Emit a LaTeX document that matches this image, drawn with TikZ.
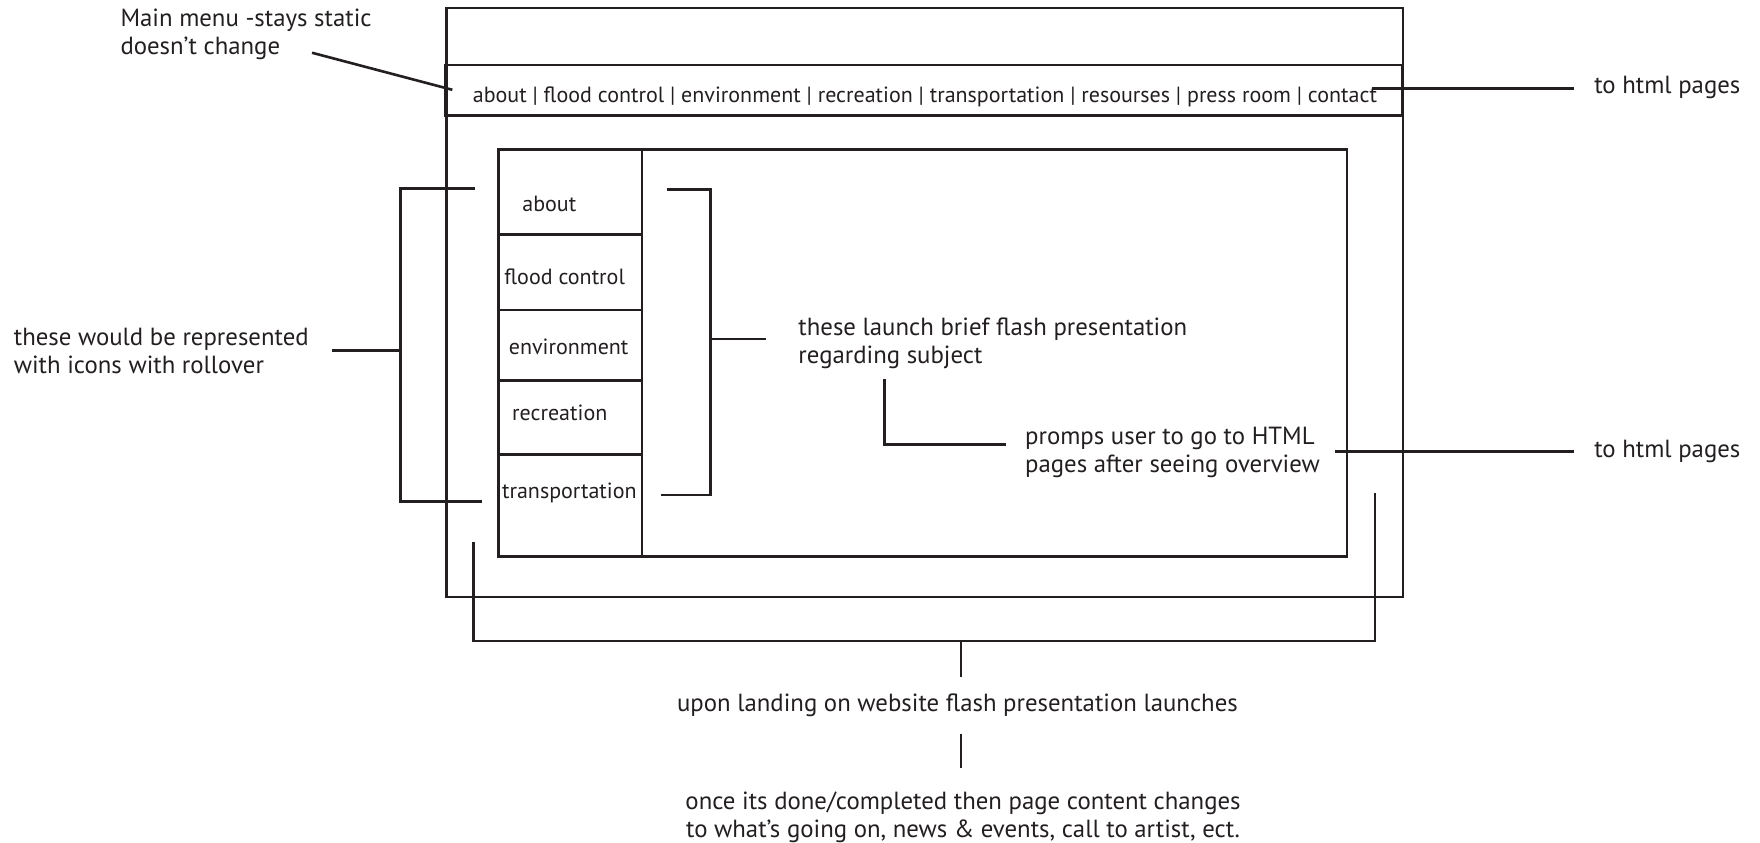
\documentclass[tikz,border=0pt]{standalone}
\usepackage{fontspec}
\setmainfont{PT Sans}
\usepackage{tikz}
\usetikzlibrary{positioning}
\definecolor{ink}{HTML}{231F20}

\begin{document}
\begin{tikzpicture}[
    x={(0.5612pt,0pt)}, y={(0pt,-0.5612pt)},
    every node/.style={font=\fontsize{12.4}{14}\selectfont, inner sep=0pt, text=ink},
    frame/.style={draw=ink, line width=1.3pt},
    lead/.style={draw=ink, line width=1.3pt},
    note/.style={anchor=west, align=left},
    cell/.style={anchor=west, font=\fontsize{11}{14}\selectfont}
]
    \useasboundingbox (0,0) rectangle (1568,751);

    % === PAGE FRAME ===
    \draw[frame] (398,7) rectangle (1250,532);

    % main menu bar
    \draw[frame] (397,58) rectangle (1249,103);
    \node[font=\fontsize{11}{14}\selectfont] (menutext) at (824,86) {about | flood control | environment | recreation | transportation | resourses | press room | contact};

    % === CONTENT AREA ===
    \draw[frame] (444,133) rectangle (1200,496);
    \draw[frame] (572,133) -- (572,496);
    \foreach \y in {209, 276, 339, 405} {
        \draw[frame] (444,\y) -- (572,\y);
    }

    \node[cell] (about) at (465,182) {about};
    \node[cell] (flood) at (449,247) {flood control};
    \node[cell] (environment) at (453,309) {environment};
    \node[cell] (recreation) at (456,368) {recreation};
    \node[cell] (transport) at (447,439) {transportation};

    % === NOTES ===
    \node[note] (staticnote) at (107,31) {Main menu -stays static\\doesn’t change};
    \node[note] (iconnote) at (12,313) {these would be represented\\with icons with rollover};
    \node[note] (launchnote) at (711,306) {these launch brief flash presentation\\regarding subject};
    \node[note] (promptnote) at (913,403) {promps user to go to HTML\\pages after seeing overview};
    \node[note] (htmltop) at (1420,78) {to html pages};
    \node[note] (htmlbottom) at (1420,402) {to html pages};
    \node (landnote) at (853,628) {upon landing on website flash presentation launches};
    \node[align=center] (donenote) at (858,728) {once its done/completed then page content changes\\to what’s going on, news \& events, call to artist, ect.};

    % === LEADERS ===
    % menu note
    \coordinate (menuend) at (403,80);
    \draw[lead] (278,47) -- (menuend);
    \coordinate (menuright) at (1222,79);
    \draw[lead] (menuright) -- (1402,79);

    % bracket round the icons
    \coordinate (icontop) at (423,168);
    \coordinate (iconbot) at (429,447);
    \draw[lead] (icontop) -- (357,168) -- (357,447) -- (iconbot);
    \draw[lead] (357,312) -- (296,312);

    % bracket to the launch note
    \coordinate (launchtop) at (594,169);
    \coordinate (launchbot) at (589,441);
    \draw[lead] (launchtop) -- (633,169) -- (633,441) -- (launchbot);
    \draw[lead] (633,302) -- (682,302);

    % launch note to prompt note
    \draw[lead] (788,338) -- (788,396) -- (896,396);
    \draw[lead] (1189,402) -- (1402,402);

    % bracket under the page
    \coordinate (pageleft) at (422,483);
    \coordinate (pageright) at (1225,439);
    \draw[lead] (pageleft) -- (422,571) -- (1225,571) -- (pageright);
    \draw[lead] (856,571) -- (856,603);
    \draw[lead] (856,654) -- (856,684);
\end{tikzpicture}
\end{document}
